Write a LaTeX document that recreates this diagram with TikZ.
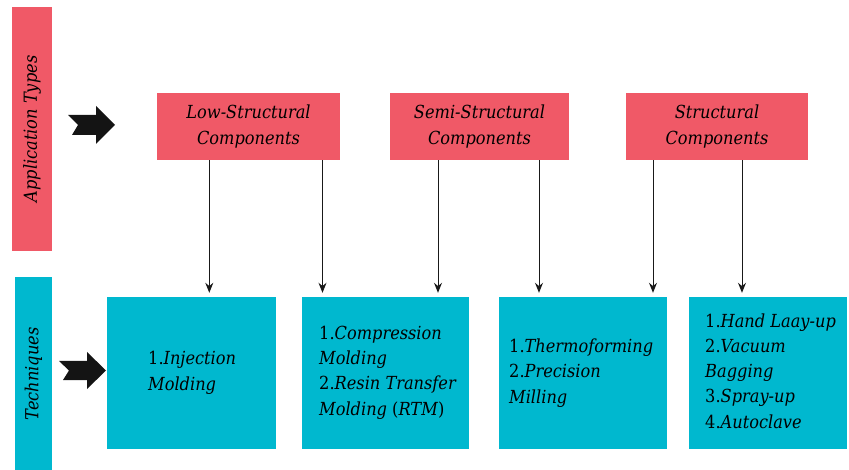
\documentclass[tikz,border=0pt]{standalone}
\usepackage{fontspec}
\setmainfont{DejaVu Serif}[FakeStretch=0.9]
\usetikzlibrary{arrows.meta}
\definecolor{appred}{RGB}{240,89,103}
\definecolor{techcyan}{RGB}{0,184,207}
\tikzset{
  apptype/.style={fill=appred, draw=none, minimum width=183pt, minimum height=67pt,
    inner sep=0pt, align=center, font=\fontsize{18}{26}\selectfont\itshape},
  techbox/.style={fill=techcyan, draw=none, minimum height=152pt, inner sep=0pt},
  techtext/.style={anchor=base west, inner sep=0pt, align=left,
    font=\fontsize{18}{25.2}\selectfont},
  sidebar/.style={draw=none, inner sep=0pt},
  sidelabel/.style={rotate=90, inner sep=0pt, font=\fontsize{18}{24}\selectfont\itshape},
  flow/.style={draw=black!90, line width=1pt, -{Stealth[length=10pt,width=8pt]}, shorten >=4pt},
  bigarrow/.style={fill=black!92, draw=none}
}
\begin{document}
\begin{tikzpicture}[x=1pt,y=-1pt]
\useasboundingbox (0,0) rectangle (849,470);

% side bars with rotated titles
\node[sidebar, fill=appred, minimum width=40pt, minimum height=244pt] (appbar) at (32,129) {};
\node[sidelabel] (applbl) at (appbar.center) {Application Types};
\node[sidebar, fill=techcyan, minimum width=37pt, minimum height=194pt] (techbar) at (33.5,374) {};
\node[sidelabel] (techlbl) at (techbar.center) {Techniques};

% notched block arrows
\fill[bigarrow] (68,115) -- (96,115) -- (96,106) -- (115,125) -- (96,144) -- (96,135) -- (72,135) -- (78,125) -- cycle;
\fill[bigarrow] (59,361) -- (87,361) -- (87,352) -- (106,370.5) -- (87,389) -- (87,380) -- (63,380) -- (69,370.5) -- cycle;

% application types
\node[apptype] (r1) at (248.5,126.5) {Low-Structural\\Components};
\node[apptype, minimum width=179pt] (r2) at (479.5,126.5) {Semi-Structural\\Components};
\node[apptype, minimum width=182pt] (r3) at (717,126.5) {Structural\\Components};

% technique boxes
\node[techbox, minimum width=169pt] (c1) at (191.5,373) {};
\node[techbox, minimum width=167pt] (c2) at (385.5,373) {};
\node[techbox, minimum width=168pt] (c3) at (583,373) {};
\node[techbox, minimum width=158pt] (c4) at (768,373) {};

% lists (anchored at the baseline of their last line)
\node[techtext] (t1) at (148,390) {1.\textit{Injection}\\\textit{Molding}};
\node[techtext] (t2) at (319,415) {1.\textit{Compression}\\\textit{Molding}\\2.\textit{Resin Transfer}\\\textit{Molding} (\textit{RTM})};
\node[techtext] (t3) at (509,403) {1.\textit{Thermoforming}\\2.\textit{Precision}\\\textit{Milling}};
\node[techtext] (t4) at (705,428) {1.\textit{Hand Laay-up}\\2.\textit{Vacuum}\\\textit{Bagging}\\3.\textit{Spray-up}\\4.\textit{Autoclave}};

% connector columns
\coordinate (k1) at (209.3,0);
\coordinate (k2) at (322.5,0);
\coordinate (k3) at (438,0);
\coordinate (k4) at (539,0);
\coordinate (k5) at (653,0);
\coordinate (k6) at (742,0);

\draw[flow] (r1.south -| k1) -- (c1.north -| k1);
\draw[flow] (r1.south -| k2) -- (c2.north -| k2);
\draw[flow] (r2.south -| k3) -- (c2.north -| k3);
\draw[flow] (r2.south -| k4) -- (c3.north -| k4);
\draw[flow] (r3.south -| k5) -- (c3.north -| k5);
\draw[flow] (r3.south -| k6) -- (c4.north -| k6);
\end{tikzpicture}
\end{document}
